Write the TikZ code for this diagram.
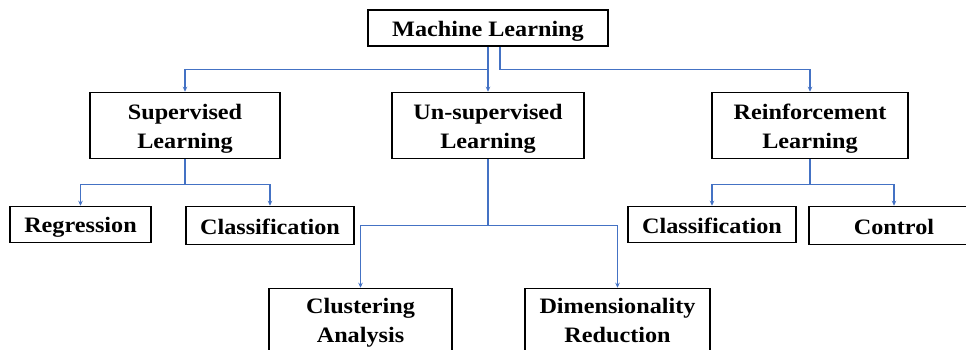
\documentclass[tikz,border=0pt]{standalone}
\usepackage{fontspec}
\setmainfont{Liberation Serif}[FakeStretch=1.1]
\usetikzlibrary{arrows.meta}
\definecolor{lineblue}{RGB}{68,114,196}
\newcommand\sx{\rule[-4pt]{0pt}{25pt}}
\begin{document}
\begin{tikzpicture}[x=1pt,y=-1pt,
  txt/.style={align=center, inner sep=0pt, font=\fontsize{22}{29}\selectfont\bfseries},
  box/.style={txt, draw=black, line width=1.5pt, fill=white},
  conn/.style={draw=lineblue, line width=1.3pt, -{Stealth[length=5pt,width=4.5pt]}},
]
\useasboundingbox (0,0) rectangle (966,349);
\clip (0,0) rectangle (966,349);
\node[box, minimum width=240pt, minimum height=36pt] (ml) at (488,28) {\sx Machine Learning};
\node[box, minimum width=190pt, minimum height=66pt] (sup) at (185,125.5) {\sx Supervised\\Learning\sx};
\node[box, minimum width=192pt, minimum height=66pt] (un) at (488,125.5) {\sx Un-supervised\\Learning\sx};
\node[box, minimum width=196pt, minimum height=66pt] (re) at (810,125.5) {\sx Reinforcement\\Learning\sx};
\node[box, minimum width=141pt, minimum height=36pt] (reg) at (80.5,224.5) {\sx Regression};
\node[box, minimum width=168pt, minimum height=38pt] (cl1) at (270,225.5) {\sx Classification};
\node[box, minimum width=168pt, minimum height=36pt] (cl2) at (712,224.5) {\sx Classification};
\node[box, minimum width=170pt, minimum height=38pt] (ctrl) at (894,225.5) {\sx Control};
\node[box, minimum width=183pt, minimum height=80pt] (clu) at (360.5,328.5) {};
\node[box, minimum width=185pt, minimum height=80pt] (dim) at (617.5,328.5) {};
\node[txt, anchor=north] (clut) at (360.5,292) {\sx Clustering\\Analysis};
\node[txt, anchor=north] (dimt) at (617.5,292) {\sx Dimensionality\\Reduction};
\draw[conn] (ml.south) -- (un.north);
\draw[conn] (ml.south) -- ++(0,23) -| (sup.north);
\draw[conn] ([xshift=12pt]ml.south) -- ++(0,23) -| (re.north);
\draw[conn] (sup.south) -- ++(0,25) -| (reg.north);
\draw[conn] (sup.south) -- ++(0,25) -| (cl1.north);
\draw[conn] (re.south) -- ++(0,25) -| (cl2.north);
\draw[conn] (re.south) -- ++(0,25) -| (ctrl.north);
\draw[conn] (un.south) -- ++(0,66) -| (clu.north);
\draw[conn] (un.south) -- ++(0,66) -| (dim.north);
\end{tikzpicture}
\end{document}
